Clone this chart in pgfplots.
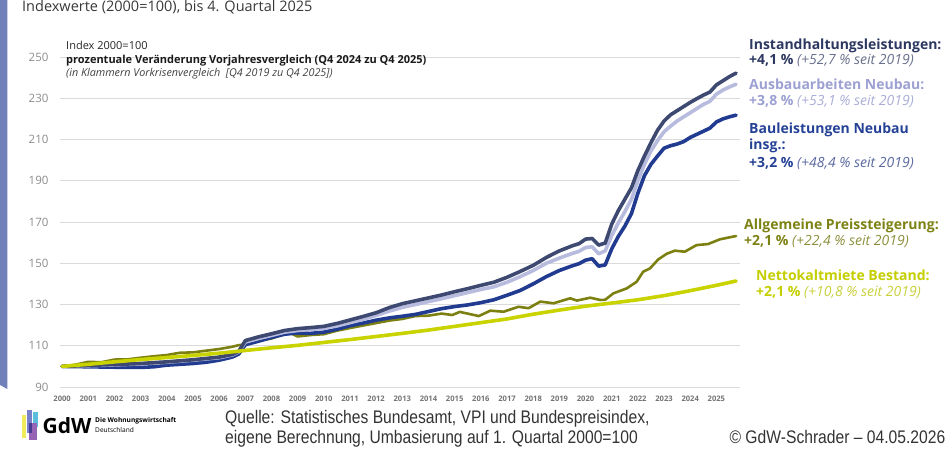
\documentclass[border=0pt]{standalone}
\usepackage{pgfplots}
\pgfplotsset{compat=1.18}
\usepackage{fontspec}
\setmainfont{Open Sans}
\newfontfamily\narrow[FakeStretch=0.86]{Liberation Sans}
\definecolor{cSlate}{RGB}{62,73,113}
\definecolor{cLav}{RGB}{183,187,222}
\definecolor{cBlue}{RGB}{32,59,143}
\definecolor{cOlive}{RGB}{124,128,16}
\definecolor{cYel}{RGB}{201,211,0}
\definecolor{tSlate}{RGB}{45,56,98}
\definecolor{iSlate}{RGB}{105,112,140}
\definecolor{tLav}{RGB}{156,160,210}
\definecolor{iLav}{RGB}{170,173,214}
\definecolor{tBlue}{RGB}{38,66,150}
\definecolor{iBlue}{RGB}{90,105,160}
\definecolor{tOlive}{RGB}{125,130,20}
\definecolor{iOlive}{RGB}{140,144,60}
\definecolor{tYel}{RGB}{196,206,0}
\definecolor{iYel}{RGB}{200,208,60}
\definecolor{barC}{RGB}{114,128,186}
\definecolor{lgY}{RGB}{240,235,90}
\definecolor{lgB}{RGB}{120,130,200}
\definecolor{lgC}{RGB}{90,190,220}
\definecolor{lgP}{RGB}{150,100,180}
\definecolor{lgD}{RGB}{70,60,150}
\begin{document}
\begin{tikzpicture}[x=1pt,y=1pt]
\useasboundingbox (0,0) rectangle (948,453);
\clip (0,0) rectangle (948,453);
% left bar
\fill[barC] (0,453) -- (7.3,453) -- (7.3,64) -- (0,68) -- cycle;
% title
\node[anchor=base west, inner sep=0, text=black!78, font=\fontsize{14.5}{17}\selectfont] at (22,441.5) {Indexwerte (2000=100), bis 4. Quartal 2025};
\begin{axis}[
  at={(60pt,66pt)}, anchor=south west, scale only axis,
  width=680pt, height=330pt,
  xmin=1999.92, xmax=2025.9, ymin=90, ymax=250,
  axis line style={draw=none}, major tick length=0pt,
  ytick={90,110,...,250},
  xtick={2000,...,2025},
  ymajorgrids, grid style={color=black!14, line width=0.8pt},
  /pgf/number format/assume math mode=true,
  /pgf/number format/1000 sep={},
  yticklabel style={font=\fontsize{11.5}{13}\selectfont, text=black!45, xshift=-8pt},
  xticklabel style={font=\bfseries\fontsize{7.6}{9}\selectfont, text=black!55, yshift=-5pt},
  clip=false,
  every axis plot/.append style={line join=round, line cap=round, no marks},
]
\addplot[cOlive, line width=2.6pt] coordinates {
(2000,100)(2000.5,100.8)(2001,102.2)(2001.5,102)(2002,103.3)(2002.5,103.4)(2003,104.2)(2003.5,104.9)(2004,105.5)(2004.5,106.6)(2005,106.8)(2005.5,107.6)(2006,108.4)(2006.5,109.5)(2006.75,110.3)(2007,110.6)(2007.5,112.4)(2008,113.5)(2008.5,115.8)(2008.75,116)(2009,114.5)(2009.5,115.2)(2010,115.6)(2010.5,117.3)(2011,118.6)(2011.5,119.8)(2012,121)(2012.5,122.2)(2013,123)(2013.5,124.4)(2014,124.6)(2014.5,125.6)(2014.9,124.9)(2015.2,126.4)(2015.92,124.4)(2016.36,127)(2016.87,126.5)(2017.44,128.9)(2017.82,128.2)(2018.27,131.4)(2018.78,130.6)(2019.41,133)(2019.67,131.9)(2020.18,133.3)(2020.56,132.2)(2020.75,132.3)(2021.06,135.4)(2021.57,137.8)(2021.95,141)(2022.2,145.9)(2022.46,147.5)(2022.78,151.9)(2023.1,154.6)(2023.41,156.1)(2023.79,155.6)(2024.24,158.8)(2024.68,159.3)(2025.13,161.6)(2025.75,163.2)};
\addplot[cBlue, line width=3.6pt] coordinates {
(2000,100)(2001,99.8)(2002,99.6)(2003,99.5)(2003.5,99.8)(2004,100.6)(2005,101.4)(2005.5,102)(2006,103)(2006.5,104.5)(2006.75,106)(2007,110.5)(2007.5,112.2)(2008,114)(2008.5,115.6)(2009,116.2)(2009.5,116)(2010,116.6)(2010.5,118)(2011,119.7)(2011.5,121)(2012,122.4)(2012.5,123.5)(2013,124.3)(2013.5,125.2)(2014,126.6)(2014.5,128)(2015,129)(2015.5,129.8)(2016,130.9)(2016.5,132.3)(2017,134.5)(2017.5,136.8)(2018,140)(2018.5,143.5)(2019,146.5)(2019.5,148.8)(2019.75,149.8)(2020,151.5)(2020.25,152.2)(2020.5,148.6)(2020.75,149.2)(2021,157)(2021.25,163)(2021.5,168)(2021.75,174)(2022,184)(2022.25,192.5)(2022.5,198)(2022.75,202)(2023,205.8)(2023.25,207)(2023.5,207.8)(2023.75,209)(2024,211)(2024.25,212.5)(2024.5,214)(2024.75,215.5)(2025,218.5)(2025.25,220)(2025.5,221)(2025.75,221.8)};
\addplot[cLav, line width=3.6pt] coordinates {
(2000,100)(2001,100.3)(2002,100.7)(2003,101.2)(2004,102)(2005,103)(2006,104.2)(2006.5,105.5)(2006.75,107)(2007,111.8)(2007.5,113.5)(2008,115)(2008.5,116.6)(2009,117.4)(2009.5,117.9)(2010,118.4)(2010.5,119.6)(2011,121.2)(2011.5,122.8)(2012,124.7)(2012.5,126.8)(2013,128.6)(2013.5,130)(2014,131.4)(2014.5,132.8)(2015,134.3)(2015.5,135.8)(2016,137.3)(2016.5,138.6)(2017,140.8)(2017.5,143.5)(2018,146.5)(2018.5,150)(2019,152.5)(2019.5,154.8)(2019.75,155.8)(2020,157.6)(2020.25,158)(2020.5,154.6)(2020.75,156)(2021,163.5)(2021.25,169.5)(2021.5,175)(2021.75,181)(2022,190)(2022.25,198)(2022.5,204.5)(2022.75,209.5)(2023,213.8)(2023.25,216.5)(2023.5,219)(2023.75,221)(2024,223)(2024.25,225)(2024.5,227)(2024.75,228.5)(2025,232)(2025.25,234)(2025.5,235.5)(2025.75,236.8)};
\addplot[cSlate, line width=3.6pt] coordinates {
(2000,100)(2000.5,100.2)(2001,100.5)(2002,100.9)(2003,101.4)(2004,102.2)(2005,103.2)(2006,104.5)(2006.5,105.8)(2006.75,107.3)(2007,112.5)(2007.5,114.3)(2008,115.8)(2008.5,117.4)(2009,118.3)(2009.5,118.8)(2010,119.4)(2010.5,120.8)(2011,122.5)(2011.5,124.2)(2012,126)(2012.5,128.5)(2013,130.4)(2013.5,131.8)(2014,133.2)(2014.5,134.6)(2015,136.2)(2015.5,137.7)(2016,139.3)(2016.5,140.8)(2017,143.2)(2017.5,146)(2018,149)(2018.5,152.8)(2019,156)(2019.5,158.5)(2019.75,159.5)(2020,161.7)(2020.25,162)(2020.5,158.8)(2020.75,159.8)(2021,169)(2021.25,175.5)(2021.5,181)(2021.75,186.5)(2022,195)(2022.25,202)(2022.5,208.5)(2022.75,214.5)(2023,219)(2023.25,222)(2023.5,224)(2023.75,226)(2024,228)(2024.25,229.8)(2024.5,231.5)(2024.75,233)(2025,236.5)(2025.25,238.5)(2025.5,240.5)(2025.75,242.2)};
\addplot[cYel, line width=3.6pt] coordinates {
(2000,100)(2001,101)(2002,102.2)(2003,103.3)(2004,104.3)(2005,105.3)(2006,106.4)(2007,107.7)(2008,109)(2009,110.2)(2010,111.6)(2011,113)(2012,114.5)(2013,116)(2014,117.6)(2015,119.4)(2016,121.2)(2017,123)(2018,125.3)(2019,127.3)(2020,129.2)(2021,130.7)(2022,132.3)(2023,134.3)(2024,136.7)(2025,139.3)(2025.75,141.4)};
\end{axis}
% inner header
\node[anchor=base west, inner sep=0, text=black!85, font=\fontsize{11}{12}\selectfont] at (66,403) {Index 2000=100};
\node[anchor=base west, inner sep=0, text=black!90, font=\bfseries\fontsize{11}{12}\selectfont] at (66,389.5) {prozentuale Veränderung Vorjahresvergleich (Q4 2024 zu Q4 2025)};
\node[anchor=base west, inner sep=0, text=black!75, font=\itshape\fontsize{10.8}{12}\selectfont] at (66,376.5) {(in Klammern Vorkrisenvergleich\ \ [Q4 2019 zu Q4 2025])};
% right labels
\begin{scope}[every node/.style={anchor=base west, inner sep=0, font=\fontsize{14}{16}\selectfont}]
\node[text=tSlate] at (749,403.7) {\bfseries Instandhaltungsleistungen:};
\node at (749,388.7) {\textcolor{tSlate}{\bfseries +4,1 \%} \textcolor{iSlate}{\itshape (+52,7 \% seit 2019)}};
\node[text=tLav] at (749,363.7) {\bfseries Ausbauarbeiten Neubau:};
\node at (749,347) {\textcolor{tLav}{\bfseries +3,8 \%} \textcolor{iLav}{\itshape (+53,1 \% seit 2019)}};
\node[text=tBlue] at (749,319) {\bfseries Bauleistungen Neubau};
\node[text=tBlue] at (749,303) {\bfseries insg.:};
\node at (749,285.7) {\textcolor{tBlue}{\bfseries +3,2 \%} \textcolor{iBlue}{\itshape (+48,4 \% seit 2019)}};
\node[text=tOlive] at (744,223) {\bfseries Allgemeine Preissteigerung:};
\node at (744,207.3) {\textcolor{tOlive}{\bfseries +2,1 \%} \textcolor{iOlive}{\itshape (+22,4 \% seit 2019)}};
\node[text=tYel] at (756,172.3) {\bfseries Nettokaltmiete Bestand:};
\node at (756,156.3) {\textcolor{tYel}{\bfseries +2,1 \%} \textcolor{iYel}{\itshape (+10,8 \% seit 2019)}};
\end{scope}
% footer
\node[anchor=base west, inner sep=0, text=black!80, font=\narrow\fontsize{18.2}{20}\selectfont] at (225,29.5) {Quelle: Statistisches Bundesamt, VPI und Bundespreisindex,};
\node[anchor=base west, inner sep=0, text=black!80, font=\narrow\fontsize{18.2}{20}\selectfont] at (225,10) {eigene Berechnung, Umbasierung auf 1. Quartal 2000=100};
\node[anchor=base east, inner sep=0, text=black!80, font=\narrow\fontsize{18.2}{20}\selectfont] at (945.5,10) {© GdW-Schrader – 04.05.2026};
% logo
\fill[lgY] (21.7,38) rectangle (26,15);
\fill[lgB] (26.7,43) rectangle (32.3,20);
\fill[lgC] (33.3,41) rectangle (38.3,26);
\fill[lgP] (29.3,30) rectangle (36.7,13);
\fill[lgD] (29.3,30) rectangle (32.3,20);
\node[anchor=base west, inner sep=0, font=\bfseries\fontsize{21}{24}\selectfont] at (42.5,20) {GdW};
\node[anchor=base west, inner sep=0, font=\bfseries\fontsize{6.6}{7}\selectfont] at (95,31) {Die Wohnungswirtschaft};
\node[anchor=base west, inner sep=0, font=\fontsize{6.6}{7}\selectfont] at (95,20.5) {Deutschland};
\end{tikzpicture}
\end{document}
